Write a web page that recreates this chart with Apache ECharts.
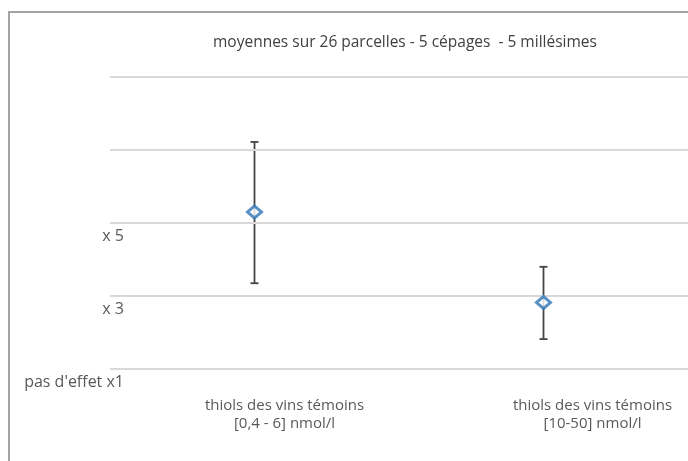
<!DOCTYPE html>
<html><head><meta charset="utf-8">
<script src="https://cdn.jsdelivr.net/npm/echarts@6/dist/echarts.min.js"></script>
<style>html,body{margin:0;padding:0;background:#fff}#c{width:688px;height:461px}</style>
</head><body><div id="c"></div>
<script>
const categories = ["thiols des vins témoins\n[0,4 - 6] nmol/l", "thiols des vins témoins\n[10-50] nmol/l"];
const means = [5.30, 2.82];
const lows = [3.35, 1.82];
const highs = [7.22, 3.80];
const gridValues = [1, 3, 5, 7, 9];
const tickLabels = {1: "pas d'effet x1", 3: "x 3", 5: "x 5"};
const title = "moyennes sur 26 parcelles - 5 cépages  - 5 millésimes";

const font = "'Open Sans', 'Noto Sans', sans-serif";
const chart = echarts.init(document.getElementById('c'));
chart.setOption({
  animation: false,
  backgroundColor: '#fff',
  title: {text: title, left: 208, top: 30, textStyle: {fontFamily: font, fontSize: 15.5, fontWeight: 'normal', color: '#404040'}},
  grid: {left: 110, right: 0, top: 77, bottom: 92},
  graphic: [{type: 'rect', shape: {x: 9, y: 12, width: 700, height: 470}, style: {fill: 'none', stroke: '#a3a3a3', lineWidth: 2}, silent: true, z: 0}],
  xAxis: {
    type: 'category',
    data: [
      {value: categories[0], textStyle: {padding: [0, 0, 0, 60]}},
      {value: categories[1], textStyle: {padding: [0, 0, 0, 98]}}
    ],
    axisLine: {show: false}, axisTick: {show: false}, splitLine: {show: false},
    axisLabel: {margin: 28, fontFamily: font, fontSize: 15, color: '#595959', lineHeight: 18, interval: 0}
  },
  yAxis: {
    type: 'value', min: 1, max: 9,
    axisLine: {show: false}, axisTick: {show: false}, splitLine: {show: false},
    axisLabel: {customValues: [1, 3, 5], margin: -14, fontFamily: font, fontSize: 16, color: '#595959',
      verticalAlign: 'top', padding: [5, 0, 0, 0], formatter: v => tickLabels[v] || ''}
  },
  series: [
    {
      type: 'line', data: [], silent: true,
      markLine: {symbol: 'none', silent: true, label: {show: false},
        lineStyle: {type: 'solid', color: '#d9d9d9', width: 2},
        data: gridValues.map(v => ({yAxis: v}))}
    },
    {
      type: 'custom', z: 3,
      data: categories.map((c, i) => [i, lows[i], highs[i]]),
      renderItem: function (params, api) {
        const lo = api.coord([api.value(0), api.value(1)]);
        const hi = api.coord([api.value(0), api.value(2)]);
        const w = 4;
        const st = {stroke: '#444444', lineWidth: 1.8};
        return {type: 'group', children: [
          {type: 'line', shape: {x1: hi[0], y1: hi[1], x2: lo[0], y2: lo[1]}, style: st},
          {type: 'line', shape: {x1: hi[0] - w, y1: hi[1], x2: hi[0] + w, y2: hi[1]}, style: st},
          {type: 'line', shape: {x1: lo[0] - w, y1: lo[1], x2: lo[0] + w, y2: lo[1]}, style: st}
        ]};
      }
    },
    {
      type: 'scatter', z: 5, data: means, symbol: 'diamond', symbolSize: [14, 12],
      itemStyle: {color: '#fff', borderColor: '#2f75b5', borderWidth: 3}
    }
  ]
});
</script></body></html>
